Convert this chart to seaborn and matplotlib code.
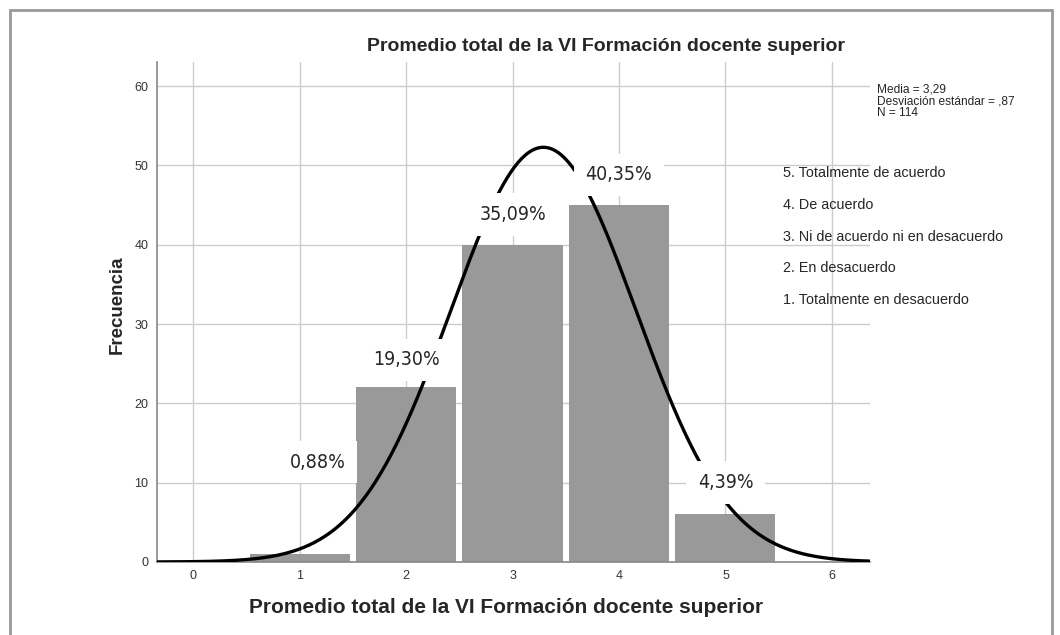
import numpy as np
import pandas as pd
import matplotlib.pyplot as plt
import seaborn as sns
from matplotlib.patches import Rectangle

# data
scores = [1, 2, 3, 4, 5]
counts = [1, 22, 40, 45, 6]
pct_labels = ["0,88%", "19,30%", "35,09%", "40,35%", "4,39%"]
categories = [
    "5. Totalmente de acuerdo",
    "4. De acuerdo",
    "3. Ni de acuerdo ni en desacuerdo",
    "2. En desacuerdo",
    "1. Totalmente en desacuerdo",
]
mean = 3.29
sd = 0.87
n = 114

df = pd.DataFrame({"score": scores, "count": counts})

sns.set_theme(style="whitegrid")
plt.rcParams["font.family"] = ["Liberation Sans", "DejaVu Sans"]

fig = plt.figure(figsize=(10.6, 6.35), dpi=100)
ax = fig.add_axes([0.148, 0.115, 0.673, 0.787])

sns.histplot(
    data=df, x="score", weights="count", discrete=True, shrink=0.94,
    color="#999999", edgecolor="none", alpha=1, ax=ax, zorder=2
)

# normal curve from the stats box
xs = np.linspace(-0.34, 6.36, 400)
curve = pd.DataFrame({
    "x": xs,
    "y": n * np.exp(-0.5 * ((xs - mean) / sd) ** 2) / (sd * np.sqrt(2 * np.pi))
})
sns.lineplot(data=curve, x="x", y="y", color="black", linewidth=2.4, ax=ax, zorder=3)

# percentage labels (placed like the SPSS output)
label_pos = [(1.17, 12.6), (2.0, 25.5), (3.0, 43.8), (4.0, 48.8), (5.0, 10.0)]
for (lx, ly), txt in zip(label_pos, pct_labels):
    ax.text(lx, ly, txt, ha="center", va="center", fontsize=14,
            family=["DejaVu Sans"], fontstretch="condensed",
            bbox=dict(boxstyle="square,pad=0.6", fc="white", ec="none"),
            zorder=5)

for i, cat in enumerate(categories):
    ax.text(5.54, 49 - 4 * i, cat, ha="left", va="center", fontsize=10.4, zorder=6)

ax.set_xlim(-0.34, 6.36)
ax.set_ylim(0, 63)
ax.set_xticks(range(0, 7))
ax.set_yticks(range(0, 61, 10))
ax.grid(True, color="#cccccc", linewidth=1)
ax.set_axisbelow(True)
ax.tick_params(length=0, labelsize=9, colors="#333333", pad=6)
for side in ["top", "right"]:
    ax.spines[side].set_visible(False)
for side in ["left", "bottom"]:
    ax.spines[side].set_color("#888888")
    ax.spines[side].set_linewidth(1.2)
ax.set_xlabel("")
ax.set_ylabel("")

fig.text(0.572, 0.926, "Promedio total de la VI Formación docente superior",
         ha="center", va="center", fontsize=14, fontweight="bold")
fig.text(0.477, 0.043, "Promedio total de la VI Formación docente superior",
         ha="center", va="center", fontsize=15, fontweight="bold")
fig.text(0.111, 0.52, "Frecuencia", ha="center", va="center", rotation=90,
         fontsize=13.5, fontweight="bold")
fig.text(0.827, 0.868, "Media = 3,29\nDesviación estándar = ,87\nN = 114",
         ha="left", va="top", fontsize=8.6, linespacing=0.95)

# outer frame
fig.patches.append(Rectangle((0.009, -0.02), 0.983, 1.005, transform=fig.transFigure,
                             fill=False, edgecolor="#999999", linewidth=2))

fig.savefig("out.png", dpi=100)
